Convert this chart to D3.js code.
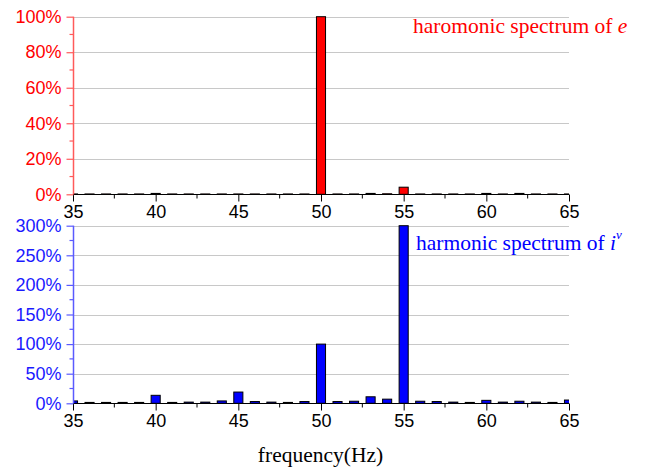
<!DOCTYPE html>
<html><head><meta charset="utf-8">
<script src="https://cdn.jsdelivr.net/npm/d3@7"></script>
<style>body{margin:0;background:#fff}svg{display:block}</style>
</head><body>
<svg id="c" width="658" height="473"></svg>
<script>
const freqs = [35,36,37,38,39,40,41,42,43,44,45,46,47,48,49,50,51,52,53,54,55,56,57,58,59,60,61,62,63,64,65];
const eSpectrum = [0.2,0.2,0.2,0.2,0.2,0.5,0.2,0.2,0.2,0.2,0.2,0.2,0.2,0.2,0.2,100,0.2,0.2,0.5,0.3,4,0.2,0.2,0.2,0.2,0.5,0.2,0.5,0.2,0.2,0.2];
const iSpectrum = [4,1.5,1.5,1.5,1.5,13.5,1.5,2,2,4,19,3,2,1.5,3,100,3,3.5,11,7,300,3.5,3,2,1.5,5,2,3.5,2,1.5,5.5];
const xTicks = [35,40,45,50,55,60,65];
const xMinor = [37.5,42.5,47.5,52.5,57.5,62.5];
const eTicks = [0,20,40,60,80,100];
const eMinor = [10,30,50,70,90];
const iTicks = [0,50,100,150,200,250,300];
const iMinor = [25,75,125,175,225,275];

const svg = d3.select("#c");
const x = d3.scaleLinear().domain([35,65]).range([73,569]);
const barW = (x(36)-x(35))*0.55;

const panels = [
  {vals:eSpectrum, ticks:eTicks, minor:eMinor, dom:[0,100], r:[194.3,16.7], fill:"#ff0000", axis:"#ff5a5a", lab:"#ff0000", id:"cp1"},
  {vals:iSpectrum, ticks:iTicks, minor:iMinor, dom:[0,300], r:[403.3,225.7], fill:"#0000ff", axis:"#5a5aff", lab:"#1a1aff", id:"cp2"}
];

const defs = svg.append("defs");
panels.forEach(p => {
  const y = d3.scaleLinear().domain(p.dom).range(p.r);
  const g = svg.append("g");
  defs.append("clipPath").attr("id", p.id).append("rect")
    .attr("x", x(35)).attr("y", p.r[1]-1).attr("width", x(65)-x(35)).attr("height", p.r[0]-p.r[1]+2);
  // grid
  g.selectAll(".grid").data(p.ticks.filter(t=>t>0)).enter().append("line")
    .attr("x1", x(35)).attr("x2", x(65)).attr("y1", d=>Math.round(y(d))+0.5).attr("y2", d=>Math.round(y(d))+0.5)
    .attr("stroke","#c8c8c8").attr("stroke-width",1);
  // bars
  g.append("g").attr("clip-path",`url(#${p.id})`).selectAll("rect").data(freqs).enter().append("rect")
    .attr("x", (d)=>x(d)-barW/2).attr("width", barW)
    .attr("y", (d,i)=>y(p.vals[i])).attr("height", (d,i)=>Math.max(0.01, y(0)-y(p.vals[i])))
    .attr("fill", p.fill).attr("stroke","#000").attr("stroke-width",1);
  // x axis
  const xa = g.append("g").attr("transform",`translate(0,${Math.round(y(0))+0.5})`)
    .call(d3.axisBottom(x).tickValues(xTicks).tickSize(7).tickPadding(4).tickFormat(d3.format("d")));
  xa.select(".domain").attr("stroke","#000").attr("d",`M${x(35)},0H${x(65)}`);
  xa.selectAll("text").attr("font-family","'Liberation Sans', Arial, sans-serif").attr("font-size","18px").attr("fill","#000");
  xa.selectAll(".mx").data(xMinor).enter().append("line").attr("class","mx")
    .attr("x1",d=>x(d)).attr("x2",d=>x(d)).attr("y1",0).attr("y2",4).attr("stroke","#000");
  // y axis
  const ya = g.append("g").attr("transform",`translate(${x(35)+0.5},0)`)
    .call(d3.axisLeft(y).tickValues(p.ticks).tickSize(7).tickPadding(5).tickFormat(d=>d+"%"));
  ya.select(".domain").attr("stroke",p.axis).attr("stroke-width",1.5).attr("d",`M0,${y(0)}V${p.r[1]}`);
  ya.selectAll(".tick line").attr("stroke",p.axis).attr("stroke-width",1.2);
  ya.selectAll("text").attr("font-family","'Liberation Sans', Arial, sans-serif").attr("font-size","18px").attr("fill",p.lab);
  ya.selectAll(".my").data(p.minor).enter().append("line").attr("class","my")
    .attr("x1",-4).attr("x2",0).attr("y1",d=>y(d)).attr("y2",d=>y(d)).attr("stroke",p.axis).attr("stroke-width",1.2);
});

const serif = "'Liberation Serif', 'Times New Roman', serif";
const t1 = svg.append("text").attr("x",413).attr("y",33).attr("font-family",serif).attr("font-size","21.5px").attr("fill","#ff0000");
t1.append("tspan").text("haromonic spectrum of ");
t1.append("tspan").attr("font-style","italic").text("e");

const t2 = svg.append("text").attr("x",416).attr("y",250).attr("font-family",serif).attr("font-size","21.5px").attr("fill","#0000ff");
t2.append("tspan").text("harmonic spectrum of ");
t2.append("tspan").attr("font-style","italic").text("i");
t2.append("tspan").attr("font-style","italic").attr("font-size","13px").attr("dy","-11").text("v");

svg.append("text").attr("x",320.5).attr("y",462).attr("text-anchor","middle").attr("font-family",serif)
  .attr("font-size","21.5px").attr("fill","#000").text("frequency(Hz)");
</script>
</body></html>
